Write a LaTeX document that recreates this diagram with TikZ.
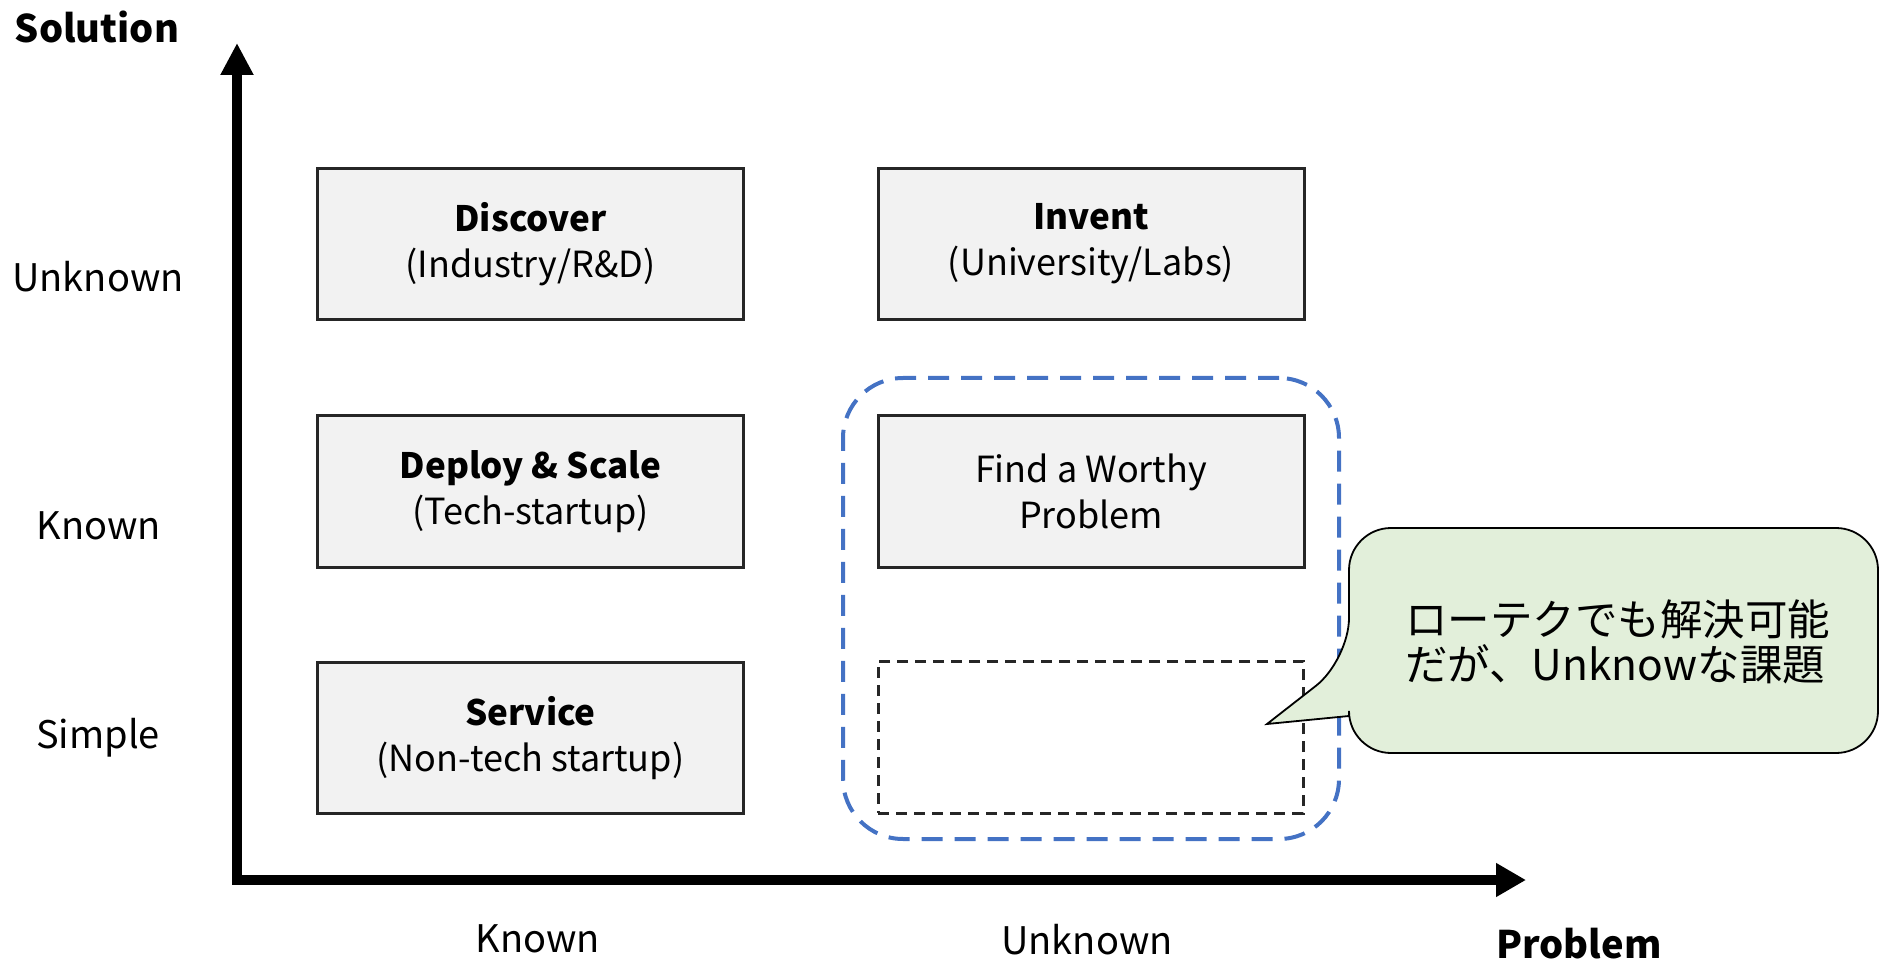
\documentclass[tikz,border=0pt]{standalone}
\usepackage{fontspec}
\setmainfont{Noto Sans CJK JP}
\usetikzlibrary{arrows.meta}
\definecolor{boxfill}{HTML}{F2F2F2}
\definecolor{boxline}{HTML}{262626}
\definecolor{grpblue}{HTML}{4472C4}
\definecolor{callfill}{HTML}{E2EFDA}
\newcommand\fsz[2]{\fontsize{#1}{#2}\selectfont}
\newcommand\boxttl[1]{{\bfseries\fsz{35}{46}#1}}
\begin{document}
\begin{tikzpicture}[x=1pt,y=-1pt,
  qbox/.style={draw=boxline, fill=boxfill, line width=3pt, minimum width=426pt, minimum height=151pt, align=center, inner sep=0pt, font=\fsz{36}{46}},
  emptybox/.style={draw=boxline, line width=3pt, dash pattern=on 11pt off 7pt, minimum width=425pt, minimum height=152pt, inner sep=0pt},
  grpbox/.style={draw=grpblue, line width=4pt, dash pattern=on 21pt off 12pt, rounded corners=60pt, minimum width=496pt, minimum height=461pt, inner sep=0pt},
  axlabel/.style={font=\fsz{38}{46}, anchor=base, inner sep=0pt},
  axtitle/.style={font=\bfseries\fsz{38}{50}, anchor=base, inner sep=0pt},
  axisline/.style={line width=10pt, line join=miter, {Triangle[width=31pt,length=32pt]}-{Triangle[width=32pt,length=30pt]}},
  callshape/.style={draw=black, line width=1.8pt, fill=callfill},
  calltext/.style={font=\fsz{42.5}{45}, align=left, anchor=west, inner sep=0pt}
]
\useasboundingbox (0,0) rectangle (1880,965);

% axes
\coordinate (ytip) at (237,43);
\coordinate (origin) at (237,880);
\coordinate (xtip) at (1526,880);
\draw[axisline] (ytip) -- (origin) -- (xtip);

% axis titles and labels
\node[axtitle] (soltitle) at (97,43) {Solution};
\node[axtitle] (probtitle) at (1579,958) {Problem};
\node[axlabel] (rowunknown) at (98,292) {Unknown};
\node[axlabel] (rowknown) at (99,539) {Known};
\node[axlabel] (rowsimple) at (98,748) {Simple};
\node[axlabel] (colknown) at (538,952) {Known};
\node[axlabel] (colunknown) at (1087,954) {Unknown};

% group outline
\node[grpbox] (grp) at (1091,608.5) {};

% boxes
\node[qbox] (discover) at (530.5,244) {\boxttl{Discover}\\(Industry/R\&D)};
\node[qbox] (invent) at (1091,244) {\boxttl{Invent}\\(University/Labs)};
\node[qbox] (deploy) at (530.5,491.5) {\boxttl{Deploy \& Scale}\\(Tech-startup)};
\node[qbox] (find) at (1091,491.5) {Find a Worthy\\Problem};
\node[qbox] (service) at (530.5,738) {\boxttl{Service}\\(Non-tech startup)};
\node[emptybox] (blank) at (1090.5,737) {};

% callout
\draw[callshape] (1349,716) [rounded corners=42pt] -- (1349,753) -- (1878,753) -- (1878,528) -- (1349,528) -- (1349,660) [sharp corners] -- (1267,724) -- cycle;
\node[calltext] (callout) at (1405,642) {ローテクでも解決可能\\だが、Unknowな課題};
\end{tikzpicture}
\end{document}
